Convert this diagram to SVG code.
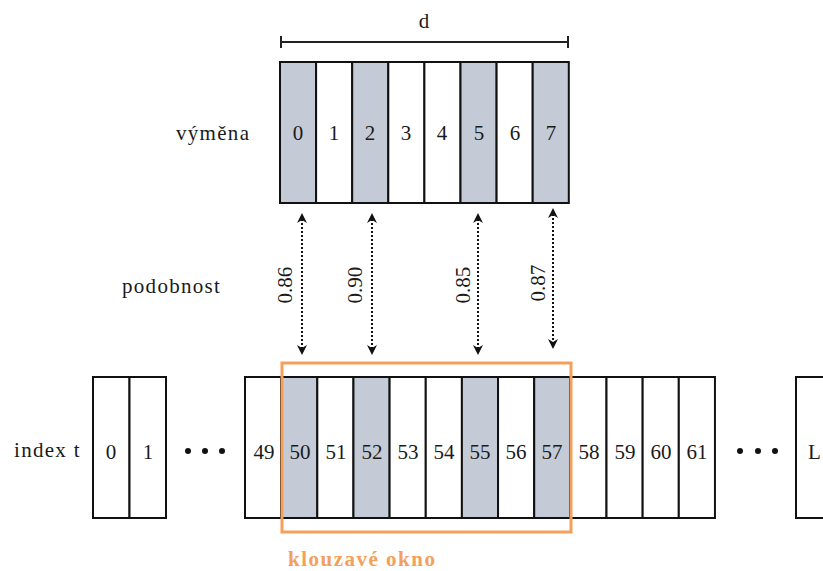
<svg xmlns="http://www.w3.org/2000/svg" width="823" height="571" viewBox="0 0 823 571">
  <style>
    text { fill: #1a1a1a; font-size: 21px; }
    .c { text-anchor: middle; }
    .w { letter-spacing: 1.3px; }
    .cell { fill: #fff; stroke: #111; stroke-width: 2; }
    .hl { fill: #c4cbd7; stroke: #111; stroke-width: 2; }
    .sim { stroke: #111; stroke-width: 2; stroke-dasharray: 2 2; fill: none; marker-start: url(#ah); marker-end: url(#ah); }
    .win { fill: none; stroke: #f5a05a; stroke-width: 3; }
    .wlabel { fill: #f5a05a; font-weight: bold; letter-spacing: 1.5px; }
    .dot { fill: #111; }
  </style>
  <defs>
    <marker id="ah" viewBox="0 0 10 10" refX="8" refY="5" markerWidth="5" markerHeight="5" orient="auto-start-reverse">
      <path d="M0,0 L10,5 L0,10 L3,5 Z" fill="#111"/>
    </marker>
  </defs>

  <!-- width bracket d -->
  <g id="width-d">
    <line x1="281" y1="42" x2="568" y2="42" stroke="#222" stroke-width="2"/>
    <line x1="281" y1="36" x2="281" y2="48" stroke="#222" stroke-width="2"/>
    <line x1="568" y1="36" x2="568" y2="48" stroke="#222" stroke-width="2"/>
    <text font-family="Liberation Serif" class="c" x="424" y="28">d</text>
  </g>

  <!-- query pattern (vymena) -->
  <g id="query">
    <text font-family="Liberation Serif" class="w" x="176" y="140">výměna</text>
    <rect class="hl" x="280" y="62" width="36.1" height="141"/>
    <rect class="cell" x="316.1" y="62" width="36.1" height="141"/>
    <rect class="hl" x="352.2" y="62" width="36.1" height="141"/>
    <rect class="cell" x="388.3" y="62" width="36.1" height="141"/>
    <rect class="cell" x="424.4" y="62" width="36.1" height="141"/>
    <rect class="hl" x="460.5" y="62" width="36.1" height="141"/>
    <rect class="cell" x="496.6" y="62" width="36.1" height="141"/>
    <rect class="hl" x="532.7" y="62" width="36.1" height="141"/>
    <text font-family="Liberation Serif" class="c" x="298" y="140">0</text>
    <text font-family="Liberation Serif" class="c" x="334" y="140">1</text>
    <text font-family="Liberation Serif" class="c" x="370" y="140">2</text>
    <text font-family="Liberation Serif" class="c" x="406" y="140">3</text>
    <text font-family="Liberation Serif" class="c" x="442" y="140">4</text>
    <text font-family="Liberation Serif" class="c" x="479" y="140">5</text>
    <text font-family="Liberation Serif" class="c" x="515" y="140">6</text>
    <text font-family="Liberation Serif" class="c" x="551" y="140">7</text>
  </g>

  <!-- similarity connectors -->
  <g id="connectors">
    <line class="sim" x1="302" y1="215" x2="302" y2="353"/>
    <line class="sim" x1="372" y1="215" x2="372" y2="353"/>
    <line class="sim" x1="478" y1="215" x2="478" y2="353"/>
    <line class="sim" x1="553" y1="210" x2="553" y2="347"/>
  </g>
  <g id="similarity-labels">
    <text font-family="Liberation Serif" class="w" x="122" y="293">podobnost</text>
    <text font-family="Liberation Serif" class="c" transform="translate(292,285) rotate(-90)">0.86</text>
    <text font-family="Liberation Serif" class="c" transform="translate(362,285) rotate(-90)">0.90</text>
    <text font-family="Liberation Serif" class="c" transform="translate(470,285) rotate(-90)">0.85</text>
    <text font-family="Liberation Serif" class="c" transform="translate(545,283) rotate(-90)">0.87</text>
  </g>

  <!-- series index row -->
  <g id="series">
    <text font-family="Liberation Serif" class="w" x="14" y="457">index t</text>
    <rect class="cell" x="93" y="377" width="36.5" height="141"/>
    <rect class="cell" x="129.5" y="377" width="36.5" height="141"/>
    <text font-family="Liberation Serif" class="c" x="111" y="459">0</text>
    <text font-family="Liberation Serif" class="c" x="148" y="459">1</text>
    <circle class="dot" cx="188" cy="451" r="3"/>
    <circle class="dot" cx="205" cy="451" r="3"/>
    <circle class="dot" cx="222" cy="451" r="3"/>

    <rect class="cell" x="245" y="377" width="36.15" height="141"/>
    <rect class="hl" x="281.15" y="377" width="36.15" height="141"/>
    <rect class="cell" x="317.3" y="377" width="36.15" height="141"/>
    <rect class="hl" x="353.45" y="377" width="36.15" height="141"/>
    <rect class="cell" x="389.6" y="377" width="36.15" height="141"/>
    <rect class="cell" x="425.75" y="377" width="36.15" height="141"/>
    <rect class="hl" x="461.9" y="377" width="36.15" height="141"/>
    <rect class="cell" x="498.05" y="377" width="36.15" height="141"/>
    <rect class="hl" x="534.2" y="377" width="36.15" height="141"/>
    <rect class="cell" x="570.35" y="377" width="36.15" height="141"/>
    <rect class="cell" x="606.5" y="377" width="36.15" height="141"/>
    <rect class="cell" x="642.65" y="377" width="36.15" height="141"/>
    <rect class="cell" x="678.8" y="377" width="36.15" height="141"/>
    <text font-family="Liberation Serif" class="c" x="264" y="459">49</text>
    <text font-family="Liberation Serif" class="c" x="300" y="459">50</text>
    <text font-family="Liberation Serif" class="c" x="336" y="459">51</text>
    <text font-family="Liberation Serif" class="c" x="372" y="459">52</text>
    <text font-family="Liberation Serif" class="c" x="408" y="459">53</text>
    <text font-family="Liberation Serif" class="c" x="444" y="459">54</text>
    <text font-family="Liberation Serif" class="c" x="480" y="459">55</text>
    <text font-family="Liberation Serif" class="c" x="516" y="459">56</text>
    <text font-family="Liberation Serif" class="c" x="552" y="459">57</text>
    <text font-family="Liberation Serif" class="c" x="589" y="459">58</text>
    <text font-family="Liberation Serif" class="c" x="625" y="459">59</text>
    <text font-family="Liberation Serif" class="c" x="661" y="459">60</text>
    <text font-family="Liberation Serif" class="c" x="697" y="459">61</text>

    <circle class="dot" cx="740" cy="451" r="3"/>
    <circle class="dot" cx="758" cy="451" r="3"/>
    <circle class="dot" cx="775" cy="451" r="3"/>
    <rect class="cell" x="796" y="377" width="40" height="141"/>
    <text font-family="Liberation Serif" x="808" y="459">L</text>
  </g>

  <!-- sliding window -->
  <g id="window">
    <rect class="win" x="282" y="363" width="289" height="169"/>
    <text font-family="Liberation Serif" class="wlabel" x="288" y="566">klouzavé okno</text>
  </g>
</svg>
